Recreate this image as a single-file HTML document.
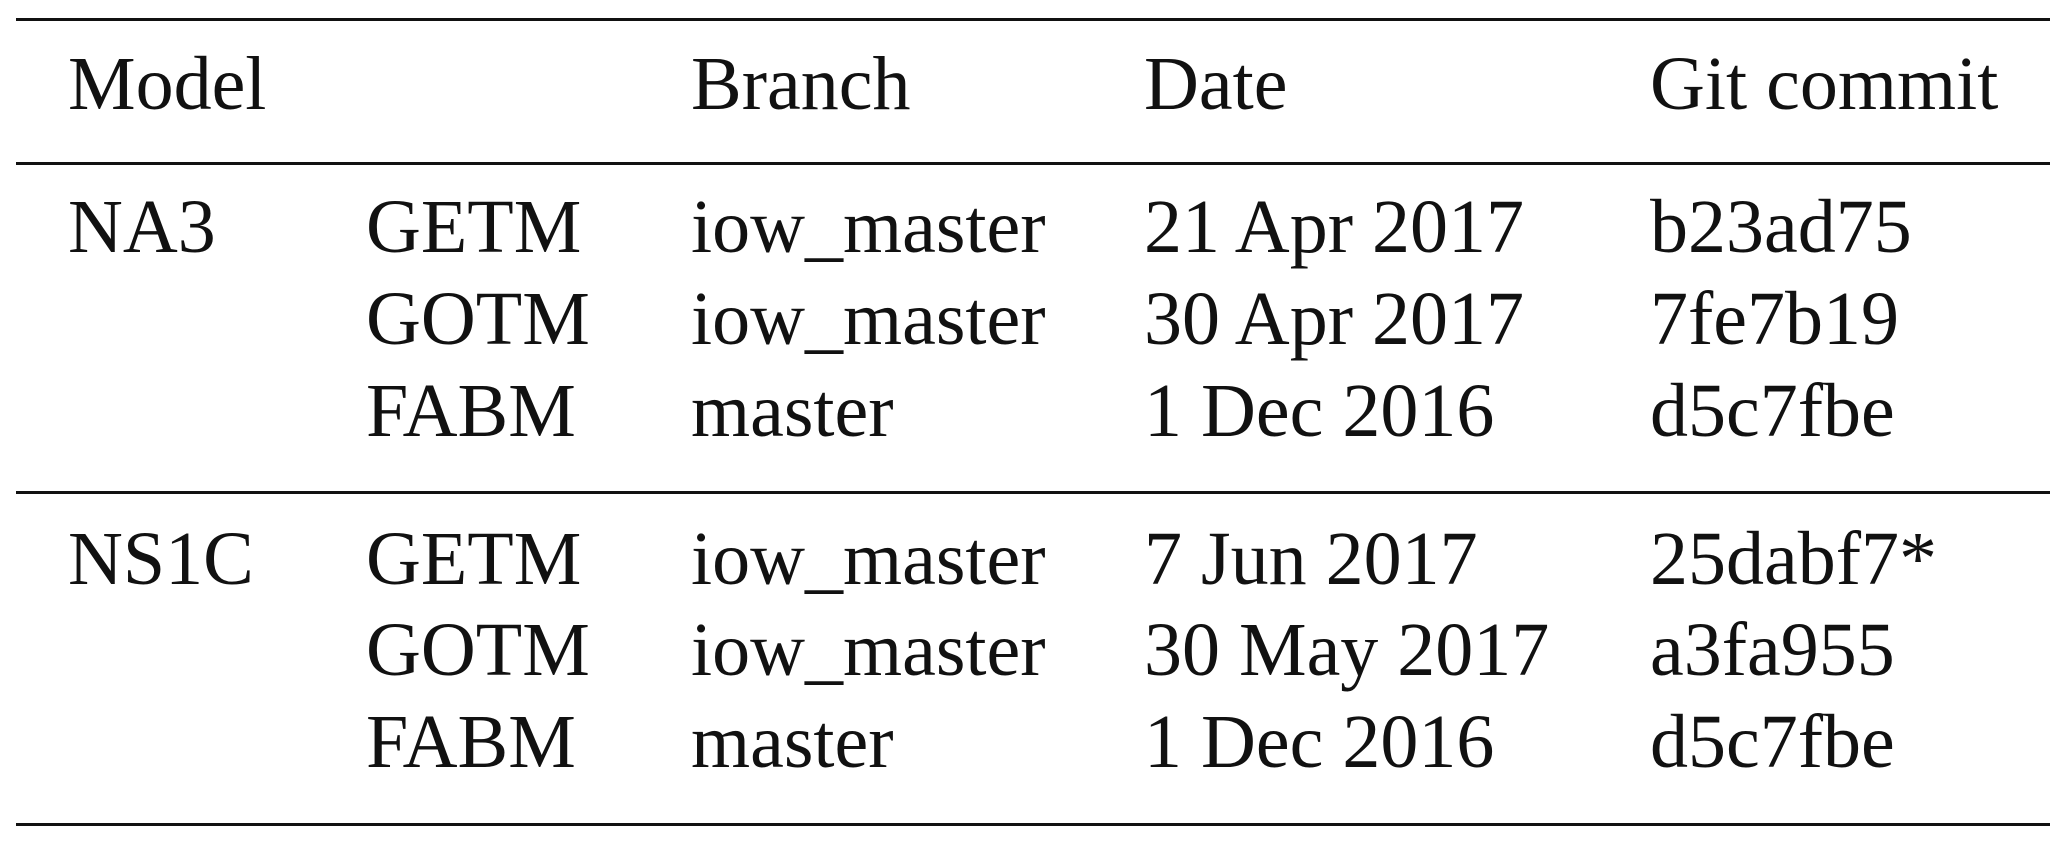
<!DOCTYPE html>
<html><head><meta charset="utf-8"><style>
html,body{margin:0;padding:0;background:#fff;}
body{width:2067px;height:845px;position:relative;overflow:hidden;font-family:"Liberation Serif",serif;font-size:76px;color:#111;}
.l{position:absolute;left:16px;width:2034px;height:3px;background:#111;}
.t{position:absolute;line-height:1;white-space:nowrap;}
</style></head><body>
<div class="l" style="top:18px"></div>
<div class="l" style="top:162px"></div>
<div class="l" style="top:491px"></div>
<div class="l" style="top:823px"></div>
<div id="c"></div>
<script>
var rows=[[110,["Model","","Branch","Date","Git commit"]],
[253,["NA3","GETM","iow_master","21 Apr 2017","b23ad75"]],
[345,["","GOTM","iow_master","30 Apr 2017","7fe7b19"]],
[437,["","FABM","master","1 Dec 2016","d5c7fbe"]],
[585,["NS1C","GETM","iow_master","7 Jun 2017","25dabf7*"]],
[676,["","GOTM","iow_master","30 May 2017","a3fa955"]],
[768,["","FABM","master","1 Dec 2016","d5c7fbe"]]];
var xs=[68,366,691,1144,1650];var h="";
rows.forEach(function(r){r[1].forEach(function(s,i){if(s)h+='<div class="t" style="left:'+xs[i]+'px;top:'+(r[0]-64)+'px">'+s+'</div>';});});
document.getElementById('c').innerHTML=h;
</script>
</body></html>
